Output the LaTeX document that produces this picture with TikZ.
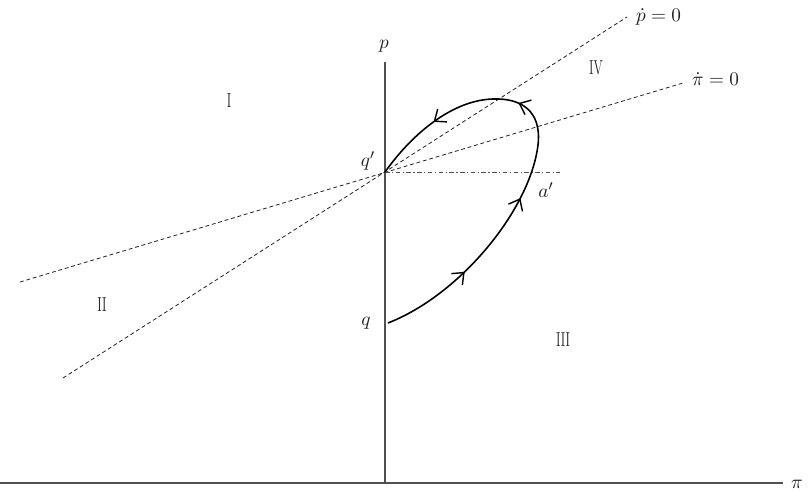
\documentclass[tikz,border=0pt]{standalone}
\usepackage{amsmath,amssymb}
\usepackage{graphicx}
\usepackage{tikz}
\usetikzlibrary{arrows.meta,decorations.markings}
\usepackage{xcolor}
\definecolor{ink}{RGB}{30,30,30}
\definecolor{axc}{RGB}{80,80,80}
\tikzset{
  axis/.style={draw=axc,line width=0.6pt},
  nullc/.style={draw=ink,line width=0.45pt,dash pattern=on 2.2pt off 1.6pt},
  level/.style={draw=axc,line width=0.5pt,dash pattern=on 2.6pt off 1.4pt on 0.7pt off 1.4pt},
  lbl/.style={font=\fontsize{11}{13}\selectfont,inner sep=1pt,text=ink},
  region/.style={font=\fontsize{11.5}{13}\selectfont,inner sep=1pt,text=ink},
  flowtip/.tip={Straight Barb[length=5.5pt,width=9pt,line width=0.8pt]},
  path/.style={draw=black,line width=0.9pt,
    postaction={decorate,decoration={markings,
      mark=at position 0.205 with {\arrow{flowtip}},
      mark=at position 0.41 with {\arrow{flowtip}},
      mark=at position 0.645 with {\arrow{flowtip}},
      mark=at position 0.845 with {\arrow{flowtip}}}}},
}
\newcommand{\rn}[1]{\scalebox{0.62}[1]{\textrm{#1}}}

\begin{document}
\begin{tikzpicture}[x=0.02cm,y=-0.02cm]
  \useasboundingbox (0,0) rectangle (811,492);
  % axes
  \coordinate (O) at (385,483);
  \coordinate (ptop) at (385,62);
  \coordinate (xl) at (0,483);
  \coordinate (xr) at (783,483);
  \draw[axis] (O) -- (ptop);
  \draw[axis] (xl) -- (xr);
  \node[lbl,anchor=south] (plab) at (384,54) {$p$};
  \node[lbl,anchor=west] (pilab) at (789,484) {$\pi$};
  % stationary lines
  \coordinate (qs) at (385,172);
  \coordinate (pdl) at (63,378);
  \coordinate (pdu) at (627,17);
  \coordinate (pil) at (20,282);
  \coordinate (piu) at (683,83);
  \coordinate (hr) at (560,172);
  \draw[nullc] (pdl) -- (pdu);
  \draw[nullc] (pil) -- (piu);
  \draw[level] (qs) -- (hr);
  \node[lbl,anchor=west] (pdot) at (634,17) {$\dot p=0$};
  \node[lbl,anchor=west] (pidot) at (690,79) {$\dot\pi=0$};
  % path from q to q'
  \coordinate (q) at (388,323);
  \coordinate (rt) at (538,145);
  \coordinate (tp) at (493,99);
  \draw[path] (q) .. controls (460,295) and (530,210) .. (rt)
    .. controls (542,110) and (520,98) .. (tp)
    .. controls (455,100) and (415,130) .. (qs);
  \node[lbl] (qlab) at (366,323) {$q$};
  \node[lbl] (qplab) at (368,161) {$q'$};
  \node[lbl] (aplab) at (546,190) {$a'$};
  % regions
  \node[region] (r1) at (229,101) {\rn{I}};
  \node[region] (r2) at (102,305) {\rn{II}};
  \node[region] (r3) at (563,340) {\rn{III}};
  \node[region] (r4) at (596,68) {\rn{IV}};
\end{tikzpicture}
\end{document}
